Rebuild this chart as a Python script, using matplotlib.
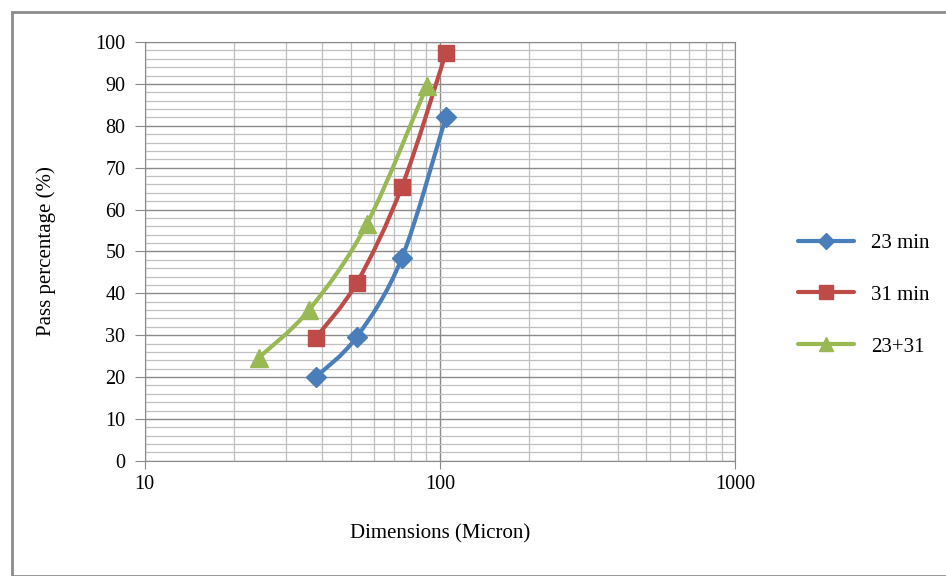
import numpy as np
import matplotlib
matplotlib.use("Agg")
import matplotlib.pyplot as plt
from matplotlib.patches import Rectangle, PathPatch
from matplotlib.path import Path
from matplotlib.lines import Line2D
from matplotlib.ticker import FixedLocator, NullFormatter

plt.rcParams['font.family'] = ['Liberation Serif', 'DejaVu Serif']

# data
x_23 = [38, 52.3, 74.3, 104.8]
y_23 = [20, 29.6, 48.4, 82.1]
x_31 = [38, 52.3, 74.3, 104.8]
y_31 = [29.4, 42.5, 65.4, 97.4]
x_both = [24.3, 36.0, 56.6, 90.3]
y_both = [24.6, 36.0, 56.6, 89.5]
labels = ['23 min', '31 min', '23+31']
colors = ['#4a7ebb', '#be4b48', '#98b954']
markers = ['D', 's', '^']
msizes = [10, 12, 13]


def smooth_path(xs, ys):
    # Excel-like smoothed line: Catmull-Rom through the points, in log-x space
    p = np.column_stack([np.log10(xs), ys])
    verts = [p[0]]
    codes = [Path.MOVETO]
    n = len(p)
    for i in range(n - 1):
        p0 = p[max(i - 1, 0)]
        p3 = p[min(i + 2, n - 1)]
        c1 = p[i] + (p[i + 1] - p0) / 6
        c2 = p[i + 1] - (p3 - p[i]) / 6
        verts += [c1, c2, p[i + 1]]
        codes += [Path.CURVE4] * 3
    verts = np.array(verts)
    verts[:, 0] = 10 ** verts[:, 0]
    return Path(verts, codes)


fig = plt.figure(figsize=(9.46, 5.76), dpi=100)
ax = fig.add_axes([0.153, 0.200, 0.624, 0.727])

# gray frame around the chart area
fig.patches.append(Rectangle((12 / 946, 0), 1, 1 - 12 / 576, transform=fig.transFigure,
                             fill=False, edgecolor='#8c8c8c', linewidth=2))

handles = []
for xs, ys, c, m, ms, lab in zip([x_23, x_31, x_both], [y_23, y_31, y_both],
                                 colors, markers, msizes, labels):
    ax.add_patch(PathPatch(smooth_path(xs, ys), fill=False, edgecolor=c, lw=3,
                           capstyle='round', zorder=3))
    ax.plot(xs, ys, ls='none', marker=m, ms=ms, color=c, zorder=4)
    handles.append(Line2D([], [], color=c, lw=3, marker=m, ms=ms * 0.8,
                          solid_capstyle='round', label=lab))

ax.set_xscale('log')
ax.set_xlim(10, 1000)
ax.set_ylim(0, 100)
ax.xaxis.set_major_locator(FixedLocator([10, 100, 1000]))
ax.set_xticklabels(['10', '100', '1000'])
ax.xaxis.set_minor_locator(FixedLocator([m * 10 ** e for e in (1, 2) for m in range(2, 10)]))
ax.xaxis.set_minor_formatter(NullFormatter())
ax.set_yticks(range(0, 101, 10))
ax.set_yticks(range(0, 101, 2), minor=True)

ax.grid(which='major', color='#8a8a8a', lw=1)
ax.grid(which='minor', color='#c0c0c0', lw=0.9)
ax.set_axisbelow(True)
ax.tick_params(which='major', color='#8a8a8a', labelsize=14.5)
ax.tick_params(axis='y', which='major', length=7, pad=7)
ax.tick_params(axis='x', which='major', length=6, pad=4)
ax.tick_params(which='minor', length=0)
for s in ax.spines.values():
    s.set_color('#8a8a8a')

ax.set_xlabel('Dimensions (Micron)', fontsize=15, labelpad=22)
ax.set_ylabel('Pass percentage (%)', fontsize=15, labelpad=28)

ax.legend(handles=handles, loc='center left', bbox_to_anchor=(1.075, 0.396), frameon=False,
          fontsize=15, handlelength=2.7, handletextpad=0.8, labelspacing=1.55)

fig.savefig('out.png', dpi=100)
